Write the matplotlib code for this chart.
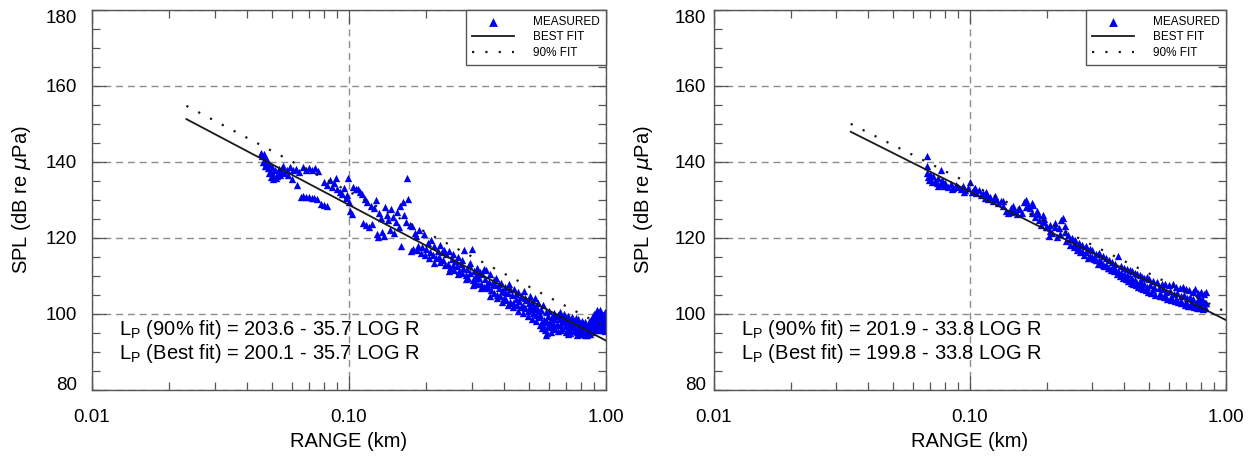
import numpy as np
import matplotlib
matplotlib.use("Agg")
import matplotlib.pyplot as plt
from matplotlib.ticker import LogLocator, MultipleLocator, NullFormatter

plt.rcParams["font.family"] = ["Liberation Sans", "DejaVu Sans"]

# ---- data (range in km, SPL in dB re 1 uPa) ----
left_range = [
    0.0456, 0.0460, 0.0466, 0.0470, 0.0462, 0.0475, 0.0480, 0.0472, 0.0485, 0.0490,
    0.0495, 0.0500, 0.0505, 0.0510, 0.0515, 0.0520, 0.0525, 0.0530, 0.0535, 0.0540,
    0.0545, 0.0550, 0.0555, 0.0560, 0.0488, 0.0498, 0.0508,
    0.0575, 0.0590, 0.0605, 0.0620, 0.0640, 0.0660, 0.0680, 0.0700, 0.0720, 0.0740,
    0.0760, 0.0580, 0.0600, 0.0630,
    0.0650, 0.0665, 0.0680, 0.0700, 0.0715, 0.0730, 0.0750, 0.0775, 0.0800, 0.0820,
    0.0800, 0.0820, 0.0840, 0.0860, 0.0875, 0.0890, 0.0900, 0.0920, 0.0940, 0.0955,
    0.0970, 0.0990, 0.1000, 0.0985,
    0.101, 0.103, 0.104, 0.106, 0.108, 0.110, 0.112, 0.113, 0.115, 0.116,
    0.118, 0.120, 0.122, 0.123, 0.125, 0.127, 0.128, 0.130, 0.131, 0.133,
    0.135, 0.137, 0.138,
    0.140, 0.142, 0.144, 0.146, 0.148, 0.150, 0.152, 0.154, 0.156, 0.158,
    0.160, 0.162, 0.164, 0.166, 0.168, 0.170, 0.172, 0.174, 0.176, 0.178,
    0.180, 0.182, 0.184, 0.186, 0.188, 0.190, 0.192, 0.195, 0.198,
    0.200, 0.203, 0.206, 0.209, 0.212, 0.215, 0.218, 0.221, 0.224, 0.227,
    0.230, 0.233, 0.236, 0.239, 0.242, 0.245, 0.248, 0.251, 0.254, 0.257,
    0.260, 0.263, 0.266, 0.269, 0.272, 0.275, 0.278, 0.281, 0.284, 0.287,
    0.290, 0.293, 0.296, 0.300, 0.303, 0.306, 0.309, 0.312, 0.315, 0.318,
    0.321, 0.324, 0.327, 0.330, 0.334, 0.338, 0.342, 0.346, 0.350,
    0.354, 0.358, 0.362, 0.366, 0.370, 0.374, 0.378, 0.382, 0.386, 0.390,
    0.395, 0.400, 0.405, 0.410, 0.415, 0.420, 0.425, 0.430, 0.435, 0.440,
    0.445, 0.450, 0.455, 0.460, 0.465, 0.470, 0.475, 0.480, 0.485, 0.490,
    0.495, 0.500, 0.505, 0.510, 0.515, 0.520, 0.525, 0.530, 0.535, 0.540,
    0.545, 0.550, 0.555, 0.560, 0.565, 0.570, 0.575, 0.580, 0.585, 0.590,
    0.595, 0.582, 0.590,
    0.600, 0.605, 0.610, 0.615, 0.620, 0.625, 0.630, 0.635, 0.640, 0.645,
    0.650, 0.655, 0.660, 0.665, 0.670, 0.675, 0.680, 0.685, 0.690, 0.695,
    0.700, 0.705, 0.710, 0.715, 0.720, 0.725, 0.730, 0.735, 0.740, 0.745,
    0.750, 0.755, 0.760, 0.765, 0.770, 0.775, 0.780, 0.785, 0.790, 0.795,
    0.800, 0.805, 0.810, 0.815, 0.820, 0.825, 0.830, 0.835, 0.840, 0.845,
    0.850, 0.855, 0.860, 0.865, 0.870, 0.875, 0.880, 0.885, 0.890, 0.895,
    0.900, 0.905, 0.910, 0.915, 0.920, 0.925, 0.930, 0.935, 0.940, 0.945,
    0.950, 0.955, 0.960, 0.965, 0.970, 0.975, 0.980, 0.985, 0.990, 0.995,
    1.000,
    0.205, 0.215, 0.225, 0.235, 0.245, 0.255, 0.265, 0.275, 0.285, 0.295,
    0.305, 0.315, 0.325, 0.335, 0.345, 0.355, 0.365, 0.375, 0.385, 0.395,
    0.405, 0.415, 0.425, 0.435, 0.445, 0.455, 0.465, 0.475, 0.485, 0.495,
    0.505, 0.515, 0.525, 0.535, 0.545, 0.555, 0.565, 0.575, 0.585, 0.595,
    0.610, 0.630, 0.650, 0.670, 0.690, 0.710, 0.730, 0.750, 0.770, 0.790,
    0.810, 0.830, 0.850, 0.870, 0.890, 0.910, 0.930, 0.950, 0.970, 0.990,
]
left_spl = [
    142.5, 141.5, 142.0, 140.8, 140.0, 139.8, 140.5, 139.0, 138.5, 139.5,
    137.5, 138.8, 136.5, 136.0, 137.8, 135.8, 136.2, 137.0, 138.2, 136.5,
    137.5, 138.5, 139.0, 137.2, 137.0, 136.0, 135.6,
    138.0, 138.6, 137.8, 138.2, 137.5, 138.6, 138.0, 138.5, 137.8, 138.3,
    137.6, 136.5, 135.5, 134.0,
    130.8, 131.0, 130.7, 130.9, 130.5, 130.6, 130.2, 129.0, 128.8, 128.5,
    134.8, 134.0, 135.2, 133.5, 134.5, 135.7, 133.0, 132.2, 131.5, 133.2,
    130.5, 135.8, 129.5, 131.2,
    127.0, 126.2, 133.5, 132.8, 133.0, 132.0, 131.5, 124.0, 130.2, 123.5,
    129.5, 122.8, 128.5, 123.8, 127.8, 130.0, 121.0, 120.2, 126.5, 125.2,
    121.5, 120.5, 128.2,
    126.0, 124.8, 122.0, 127.5, 125.5, 121.2, 124.2, 126.8, 123.0, 128.5,
    117.8, 129.5, 126.0, 124.2, 135.8, 130.2, 123.5, 116.5, 123.2, 117.0,
    121.2, 120.5, 116.8, 118.0, 122.0, 116.0, 117.5, 121.0, 115.5,
    117.0, 118.8, 116.2, 119.5, 115.5, 117.8, 114.8, 116.5, 115.0, 113.8,
    116.2, 114.2, 112.8, 115.8, 113.2, 116.5, 112.0, 114.5, 113.0, 111.5,
    114.0, 112.5, 115.0, 111.2, 113.2, 110.8, 112.2, 116.8, 110.2, 111.8,
    109.5, 112.8, 110.8, 117.2, 109.0, 111.2, 108.5, 110.2, 112.0, 107.8,
    109.5, 111.0, 108.0, 110.5, 107.2, 109.2, 111.5, 106.8, 108.5,
    110.5, 106.2, 108.0, 105.5, 107.5, 109.5, 105.0, 106.8, 104.8, 108.2,
    106.0, 104.2, 107.2, 103.8, 105.5, 108.0, 103.2, 105.0, 102.8, 106.5,
    104.0, 102.5, 105.8, 103.5, 101.8, 104.5, 102.2, 106.0, 101.5, 103.8,
    100.8, 102.8, 104.8, 101.2, 103.2, 100.2, 102.0, 104.2, 99.8, 101.5,
    103.0, 99.2, 97.0, 101.0, 96.2, 102.5, 98.5, 95.8, 100.5, 97.8,
    99.5, 94.5, 95.0,
    100.8, 98.0, 96.5, 99.2, 97.2, 100.2, 98.6, 96.0, 99.5, 97.5,
    95.5, 98.8, 100.5, 97.0, 99.0, 96.2, 98.2, 100.0, 96.8, 98.8,
    95.2, 97.5, 99.6, 96.0, 98.0, 95.0, 97.2, 99.2, 96.5, 98.5,
    95.5, 97.8, 96.0, 99.0, 95.2, 97.0, 98.6, 95.8, 97.5, 94.8,
    96.8, 98.2, 95.5, 97.2, 94.8, 96.5, 98.0, 95.2, 96.8, 94.6,
    96.2, 97.8, 95.0, 96.5, 98.2, 95.5, 97.0, 99.0, 96.0, 98.0,
    100.0, 97.2, 99.5, 96.5, 101.0, 98.5, 100.2, 97.2, 99.0, 96.2,
    98.0, 100.0, 96.8, 98.6, 95.8, 97.5, 99.2, 96.2, 97.8, 95.6,
    97.0,
    114.8, 113.5, 118.2, 116.8, 111.2, 115.8, 110.5, 114.2, 109.2, 113.5,
    107.5, 109.8, 106.8, 111.8, 108.0, 104.8, 109.0, 104.2, 107.8, 103.2,
    105.8, 102.5, 106.5, 101.8, 105.2, 100.8, 104.8, 100.2, 104.2, 99.5,
    102.2, 98.8, 101.2, 98.2, 100.8, 99.8, 98.0, 96.5, 98.2, 96.8,
    95.2, 97.0, 99.8, 95.8, 97.8, 94.8, 98.4, 96.6, 94.6, 96.2,
    97.8, 94.5, 95.6, 94.8, 95.2, 97.8, 95.8, 101.0, 99.8, 100.5,
]

right_range = [
    0.0678, 0.0678, 0.0680, 0.0685, 0.0690, 0.0695, 0.0700, 0.0710, 0.0720, 0.0730,
    0.0740, 0.0750, 0.0770, 0.0770, 0.0780, 0.0790, 0.0800, 0.0820, 0.0840, 0.0860,
    0.0880, 0.0900, 0.0920, 0.0940, 0.0960, 0.0980,
    0.100, 0.102, 0.104, 0.106, 0.108, 0.110, 0.112, 0.114, 0.116, 0.118,
    0.120, 0.123, 0.126, 0.129, 0.132, 0.135, 0.138, 0.141, 0.144, 0.147,
    0.150, 0.153, 0.156, 0.159, 0.162, 0.165, 0.168, 0.171, 0.174, 0.177,
    0.180, 0.183, 0.186, 0.189, 0.192, 0.195, 0.198,
    0.200, 0.203, 0.206, 0.210, 0.214, 0.218, 0.222, 0.226, 0.230, 0.234,
    0.238, 0.242, 0.246, 0.250, 0.254, 0.258, 0.262, 0.266, 0.270, 0.275,
    0.280, 0.285, 0.290, 0.295,
    0.300, 0.305, 0.310, 0.315, 0.320, 0.325, 0.330, 0.335, 0.340, 0.345,
    0.350, 0.355, 0.360, 0.365, 0.370, 0.375, 0.380, 0.385, 0.390, 0.395,
    0.400, 0.405, 0.410, 0.415, 0.420, 0.425, 0.430, 0.435, 0.440, 0.445,
    0.450, 0.455, 0.460, 0.465, 0.470, 0.475, 0.480, 0.485, 0.490, 0.495,
    0.500, 0.510, 0.520, 0.530, 0.540, 0.550, 0.560, 0.570, 0.580, 0.590,
    0.600, 0.610, 0.620, 0.630, 0.640, 0.650, 0.660, 0.670, 0.680, 0.690,
    0.700, 0.710, 0.720, 0.730, 0.740, 0.750, 0.760, 0.770, 0.780, 0.790,
    0.800, 0.810, 0.820, 0.830, 0.835, 0.835, 0.825, 0.815, 0.805, 0.795,
    0.785, 0.775, 0.765, 0.745, 0.725, 0.705, 0.685, 0.665, 0.645, 0.625,
    0.605, 0.585, 0.565, 0.545, 0.525, 0.505, 0.480, 0.460, 0.440, 0.420,
    0.400, 0.380, 0.360, 0.340, 0.320, 0.300,
    0.105, 0.115, 0.125, 0.135, 0.145, 0.155, 0.165, 0.175, 0.185, 0.195,
    0.205, 0.215, 0.225, 0.235, 0.245, 0.255, 0.265, 0.275, 0.285, 0.295,
    0.310, 0.330, 0.350, 0.370, 0.390, 0.410, 0.430, 0.450, 0.470, 0.490,
    0.520, 0.550, 0.580, 0.610, 0.640, 0.670, 0.700, 0.730, 0.760, 0.790,
    0.820, 0.075, 0.085, 0.095,
]
right_spl = [
    141.5, 139.0, 137.0, 136.0, 135.2, 136.8, 135.5, 134.8, 136.2, 135.0,
    134.5, 135.8, 137.8, 134.2, 135.2, 133.8, 134.5, 133.5, 134.2, 133.2,
    134.0, 133.5, 132.8, 133.8, 132.5, 133.2,
    134.8, 132.0, 133.0, 131.8, 132.5, 131.2, 131.8, 130.6, 131.2, 130.2,
    130.8, 129.8, 130.2, 129.2, 129.8, 128.5, 127.2, 126.5, 127.8, 128.5,
    127.0, 126.2, 128.0, 126.5, 129.5, 130.0, 128.8, 127.8, 126.5, 128.8,
    125.5, 127.2, 124.8, 123.5, 126.0, 124.2, 122.8,
    122.8, 120.5, 123.5, 121.2, 124.0, 120.2, 122.5, 124.8, 125.2, 121.5,
    119.2, 120.8, 118.2, 120.0, 117.5, 119.5, 116.8, 118.8, 116.2, 118.2,
    115.5, 117.8, 114.8, 117.2,
    116.8, 114.5, 115.8, 113.2, 116.0, 113.8, 115.2, 112.5, 114.8, 112.0,
    114.2, 111.5, 113.8, 111.2, 113.2, 110.5, 115.2, 110.0, 112.5, 109.6,
    112.0, 109.2, 111.8, 108.8, 111.5, 108.2, 111.2, 107.8, 110.8, 107.5,
    110.5, 107.2, 110.2, 106.8, 109.8, 106.5, 109.5, 106.2, 109.8, 105.8,
    109.2, 105.5, 108.8, 105.0, 108.5, 104.8, 108.0, 104.5, 107.8, 104.0,
    107.5, 103.8, 107.8, 103.5, 107.2, 103.2, 106.8, 102.8, 107.0, 102.5,
    106.5, 102.2, 106.2, 102.0, 105.8, 101.8, 106.5, 101.6, 105.5, 101.5,
    105.8, 101.4, 105.2, 101.8, 105.8, 103.0, 102.8, 103.5, 104.0, 103.2,
    104.2, 103.8, 102.8, 104.0, 104.5, 104.2, 105.0, 104.8, 105.5, 105.2,
    106.0, 105.8, 106.5, 106.8, 107.0, 107.5, 107.8, 108.5, 109.0, 109.8,
    110.5, 111.2, 112.0, 113.0, 114.2, 115.0,
    133.2, 132.2, 131.0, 129.8, 126.8, 127.5, 128.2, 129.2, 126.2, 125.0,
    121.8, 122.8, 121.0, 123.2, 119.8, 118.5, 117.5, 116.5, 116.2, 115.2,
    114.2, 112.8, 112.2, 111.8, 110.8, 110.2, 109.2, 108.2, 107.8, 107.2,
    106.2, 105.5, 104.8, 104.5, 104.0, 103.5, 103.2, 102.8, 102.5, 102.0,
    101.6, 133.8, 133.0, 132.0,
]

# fit equations printed on the panels: Lp = a - b LOG R (R in metres)
left_fit_best = 200.1
left_fit_90 = 203.6
left_slope = 35.7
left_line_from = 0.0233   # km, where the drawn fit lines start

right_fit_best = 199.8
right_fit_90 = 201.9
right_slope = 33.8
right_line_from = 0.0342

x_ticks = [0.01, 0.1, 1.0]
x_tick_labels = ["0.01", "0.10", "1.00"]
y_ticks = [80, 100, 120, 140, 160, 180]

MARKER_BLUE = "#0000f0"
FRAME = "#555555"
GRID = "#8c8c8c"


def draw_panel(ax, rng, spl, a_best, a_90, slope, line_from, ypad):
    ax.scatter(rng, spl, marker="^", s=28, color=MARKER_BLUE, linewidths=0,
               zorder=2, label="MEASURED")

    r = np.geomspace(line_from, 1.0, 50)
    ax.plot(r, a_best - slope * np.log10(r * 1000.0), color="#1a1a1a",
            lw=1.3, zorder=3, label="BEST FIT")
    ax.plot(r, a_90 - slope * np.log10(r * 1000.0), color="#1a1a1a",
            lw=1.6, ls=(0, (1, 5)), zorder=3, label="90% FIT")

    ax.set_xscale("log")
    ax.set_xlim(0.01, 1.0)
    ax.set_ylim(80, 180)
    ax.set_xticks(x_ticks, labels=x_tick_labels)
    ax.xaxis.set_minor_locator(LogLocator(base=10, subs=range(2, 10)))
    ax.xaxis.set_minor_formatter(NullFormatter())
    ax.set_yticks(y_ticks)
    ax.yaxis.set_minor_locator(MultipleLocator(5))

    ax.tick_params(which="both", direction="in", top=True, right=True,
                   color=FRAME, width=0.9)
    ax.tick_params(which="major", length=10, labelsize=13.5)
    ax.tick_params(which="minor", length=6)
    ax.tick_params(axis="x", which="major", pad=14)
    ax.tick_params(axis="y", which="major", pad=ypad)

    # the end labels of the y axis are kept inside the frame height
    yt = ax.yaxis.get_major_ticks()
    yt[-1].label1.set_verticalalignment("top")
    yt[0].label1.set_verticalalignment("baseline")

    ax.grid(True, which="major", color=GRID, lw=1.0, ls=(0, (5, 3.5)))
    ax.set_axisbelow(True)
    for sp in ax.spines.values():
        sp.set_color(FRAME)
        sp.set_linewidth(1.0)

    ax.set_xlabel("RANGE (km)", fontsize=14.5, labelpad=4)
    ax.set_ylabel(r"SPL (dB re $\mu$Pa)", fontsize=14.5, labelpad=20 - ypad)

    ax.text(0.053, 0.158,
            r"L$_\mathregular{P}$ (90% fit) = " + f"{a_90:.1f} - {slope:.1f} LOG R",
            transform=ax.transAxes, fontsize=14.5, va="center")
    ax.text(0.053, 0.096,
            r"L$_\mathregular{P}$ (Best fit) = " + f"{a_best:.1f} - {slope:.1f} LOG R",
            transform=ax.transAxes, fontsize=14.5, va="center")

    leg = ax.legend(loc="upper right", borderaxespad=0, fancybox=False,
                    framealpha=1, edgecolor=FRAME, fontsize=8.5,
                    handlelength=3.6, handletextpad=1.6, borderpad=0.5,
                    labelspacing=0.3, scatterpoints=1, markerscale=1.2)
    leg.get_frame().set_linewidth(1.0)


def main():
    fig = plt.figure(figsize=(12.59, 4.62), dpi=100)
    fig.patch.set_facecolor("white")

    ax_l = fig.add_axes([92 / 1259, 72 / 462, 514 / 1259, 380 / 462])
    ax_r = fig.add_axes([714 / 1259, 72 / 462, 512 / 1259, 380 / 462])

    draw_panel(ax_l, left_range, left_spl, left_fit_best, left_fit_90,
               left_slope, left_line_from, ypad=11)
    draw_panel(ax_r, right_range, right_spl, right_fit_best, right_fit_90,
               right_slope, right_line_from, ypad=6)

    fig.savefig("out.png", dpi=100, facecolor="white")


if __name__ == "__main__":
    main()
